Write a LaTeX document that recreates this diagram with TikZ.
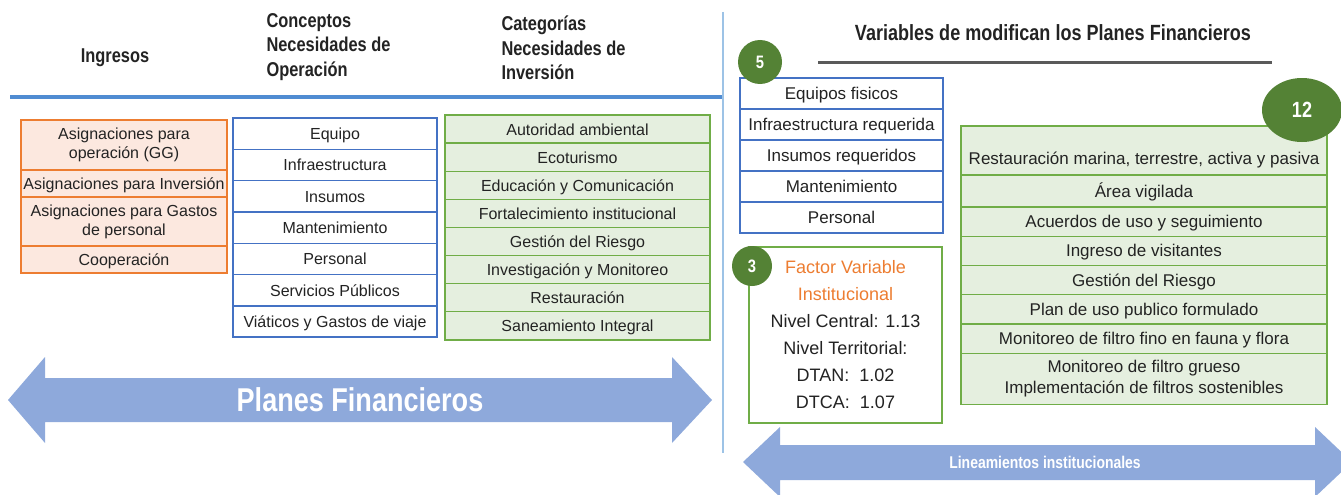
\documentclass[tikz,border=0pt]{standalone}
\usepackage{fontspec}
\setmainfont{Liberation Sans}
\newfontfamily\narrowfont{Liberation Sans}[FakeStretch=0.82]
\usetikzlibrary{shapes.geometric, positioning}

\definecolor{orangeline}{RGB}{237,125,49}
\definecolor{orangefill}{RGB}{252,232,223}
\definecolor{blueline}{RGB}{68,114,196}
\definecolor{greenline}{RGB}{112,173,71}
\definecolor{greenfill}{RGB}{229,239,223}
\definecolor{arrowblue}{RGB}{142,169,219}
\definecolor{darkgreen}{RGB}{84,130,53}
\definecolor{ruleblue}{RGB}{80,140,210}
\definecolor{sepblue}{RGB}{157,195,230}
\definecolor{rulegray}{RGB}{90,90,90}
\definecolor{bodytext}{RGB}{35,35,35}

\begin{document}
\begin{tikzpicture}[x=1pt, y=-1pt,
  every node/.style={text=bodytext},
  cell/.style={rectangle, draw, line width=1.4pt, outer sep=0pt, inner xsep=1pt, inner ysep=2pt, align=center},
  oneline/.style={text height=14pt, text depth=2pt},
  ingreso/.style={cell, draw=orangeline, fill=orangefill, minimum width=206pt, font=\fontsize{16}{19}\selectfont},
  operacion/.style={cell, oneline, draw=blueline, fill=white, minimum width=204pt, minimum height=31.3pt, font=\fontsize{16}{19}\selectfont},
  inversion/.style={cell, oneline, draw=greenline, fill=greenfill, minimum width=265pt, minimum height=28.1pt, font=\fontsize{16}{19}\selectfont},
  varcell/.style={cell, oneline, draw=blueline, fill=white, minimum width=203pt, minimum height=31pt, font=\fontsize{17}{20}\selectfont},
  lineamiento/.style={cell, draw=greenline, fill=greenfill, minimum width=366pt, minimum height=29.25pt, font=\fontsize{17}{21}\selectfont},
  header/.style={font=\narrowfont\bfseries\fontsize{20}{24.5}\selectfont, align=left},
  badge/.style={circle, fill=darkgreen, inner sep=0pt, text=white, font=\narrowfont\bfseries\fontsize{18}{18}\selectfont},
  banner/.style={text=white, font=\narrowfont\bfseries}]
  \useasboundingbox (0,0) rectangle (1341,495);

  % Rules
  \draw[ruleblue, line width=3.5pt] (10,97) -- (723,97);
  \draw[sepblue, line width=2pt] (723,12) -- (723,453);
  \draw[rulegray, line width=3pt] (818,63) -- (1272,63);

  % Headers
  \node (ingresos) [header] at (115,58) {Ingresos};
  \node (conceptos) [header, anchor=west] at (263,47) {Conceptos\\Necesidades de\\Operación};
  \node (categorias) [header, anchor=west] at (498,48) {Categorías\\Necesidades de\\Inversión};
  \node (variables) [header, font=\narrowfont\bfseries\fontsize{22}{26}\selectfont] at (1053,33) {Variables de modifican los Planes Financieros};

  % Ingresos
  \node (asigop) [ingreso, minimum height=50pt, anchor=north west] at (21,120) {Asignaciones para\\operación (GG)};
  \node (asiginv) [ingreso, oneline, minimum height=27pt, below=0pt of asigop] {Asignaciones para Inversión};
  \node (asiggas) [ingreso, minimum height=49pt, below=0pt of asiginv] {Asignaciones para Gastos\\de personal};
  \node (coop) [ingreso, oneline, minimum height=27pt, below=0pt of asiggas] {Cooperación};

  % Necesidades de operacion
  \node (equipo) [operacion, anchor=north west] at (233,118) {Equipo};
  \node (infra) [operacion, below=0pt of equipo] {Infraestructura};
  \node (insumos) [operacion, below=0pt of infra] {Insumos};
  \node (mant) [operacion, below=0pt of insumos] {Mantenimiento};
  \node (personal) [operacion, below=0pt of mant] {Personal};
  \node (servicios) [operacion, below=0pt of personal] {Servicios Públicos};
  \node (viaticos) [operacion, below=0pt of servicios] {Viáticos y Gastos de viaje};

  % Necesidades de inversion
  \node (autoridad) [inversion, anchor=north west] at (445,115) {Autoridad ambiental};
  \node (ecotur) [inversion, below=0pt of autoridad] {Ecoturismo};
  \node (educ) [inversion, below=0pt of ecotur] {Educación y Comunicación};
  \node (fortal) [inversion, below=0pt of educ] {Fortalecimiento institucional};
  \node (riesgo) [inversion, below=0pt of fortal] {Gestión del Riesgo};
  \node (invest) [inversion, below=0pt of riesgo] {Investigación y Monitoreo};
  \node (restaur) [inversion, below=0pt of invest] {Restauración};
  \node (saneam) [inversion, below=0pt of restaur] {Saneamiento Integral};

  % Variables
  \node (equipos) [varcell, anchor=north west] at (740,78) {Equipos fisicos};
  \node (infrareq) [varcell, below=0pt of equipos] {Infraestructura requerida};
  \node (insumosreq) [varcell, below=0pt of infrareq] {Insumos requeridos};
  \node (mantvar) [varcell, below=0pt of insumosreq] {Mantenimiento};
  \node (personalvar) [varcell, below=0pt of mantvar] {Personal};

  \node (factor) [cell, draw=greenline, fill=white, minimum width=193pt, minimum height=176pt, anchor=north west,
    font=\fontsize{18}{27}\selectfont] at (749,247)
    {\textcolor{orangeline}{Factor Variable}\\\textcolor{orangeline}{Institucional}\\Nivel Central: 1.13\\Nivel Territorial:\\DTAN:\ \ 1.02\\DTCA:\ \ 1.07};

  \node (restmar) [lineamiento, minimum height=49pt, text height=33pt, text depth=5pt, inner ysep=5.5pt, anchor=north west] at (961,126) {Restauración marina, terrestre, activa y pasiva};
  \node (area) [lineamiento, oneline, minimum height=32pt, below=0pt of restmar] {Área vigilada};
  \node (acuerdos) [lineamiento, oneline, below=0pt of area] {Acuerdos de uso y seguimiento};
  \node (visitas) [lineamiento, oneline, below=0pt of acuerdos] {Ingreso de visitantes};
  \node (riesgovar) [lineamiento, oneline, below=0pt of visitas] {Gestión del Riesgo};
  \node (planuso) [lineamiento, oneline, below=0pt of riesgovar] {Plan de uso publico formulado};
  \node (monfino) [lineamiento, oneline, below=0pt of planuso] {Monitoreo de filtro fino en fauna y flora};
  \node (mongrueso) [lineamiento, minimum height=51pt, below=0pt of monfino] {Monitoreo de filtro grueso\\Implementación de filtros sostenibles};

  % Badges
  \node (five) [badge, minimum size=44pt] at (760,62) {5};
  \node (three) [badge, minimum size=40pt] at (752,266) {3};
  \node (twelve) [badge, ellipse, minimum width=80pt, minimum height=64pt, font=\narrowfont\bfseries\fontsize{22}{22}\selectfont] at (1302,110) {12};

  % Arrows
  \fill[arrowblue] (8,400) -- (45,357) -- (45,378) -- (672,378) -- (672,357) -- (712,400)
    -- (672,443) -- (672,422) -- (45,422) -- (45,443) -- cycle;
  \node (planes) [banner, font=\narrowfont\bfseries\fontsize{33}{33}\selectfont] at (360,400) {Planes Financieros};

  \fill[arrowblue] (743,462) -- (780,427) -- (780,445) -- (1315,445) -- (1315,427) -- (1352,462)
    -- (1315,497) -- (1315,480) -- (780,480) -- (780,497) -- cycle;
  \node (lineam) [banner, font=\narrowfont\bfseries\fontsize{17}{17}\selectfont] at (1045,462) {Lineamientos institucionales};
\end{tikzpicture}
\end{document}
